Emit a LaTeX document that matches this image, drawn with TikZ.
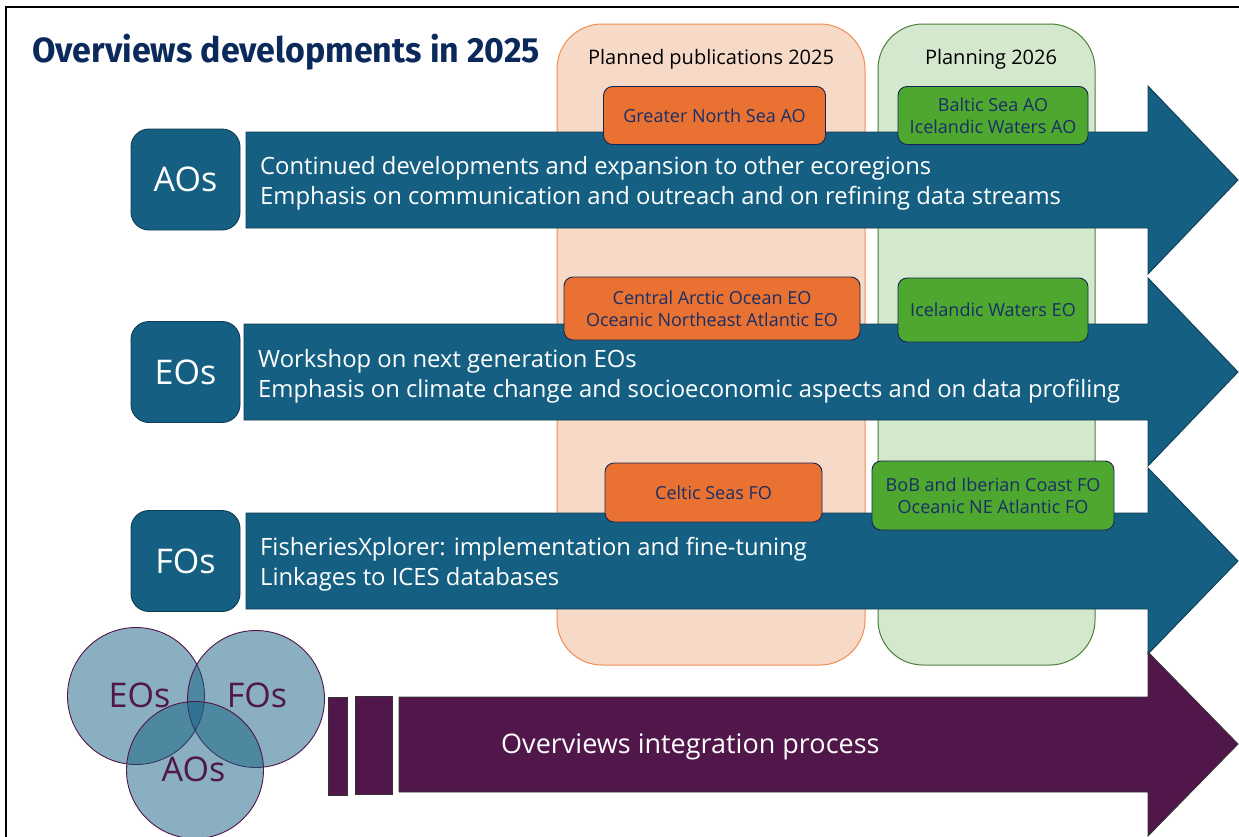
\documentclass[tikz,border=0pt]{standalone}
\usepackage{fontspec}
\setmainfont{Open Sans}
\newfontfamily\titlefont[FakeStretch=0.97]{Fira Sans}
\definecolor{tblue}{HTML}{156082}
\definecolor{tblueedge}{HTML}{0E3C52}
\definecolor{torange}{HTML}{E97132}
\definecolor{tgreen}{HTML}{4EA72E}
\definecolor{tnavy}{HTML}{1A2E66}
\definecolor{ttitle}{HTML}{0B2A5B}
\definecolor{tpeach}{HTML}{F7D9C8}
\definecolor{tpeachedge}{HTML}{F08D52}
\definecolor{tlgreen}{HTML}{D3E8CD}
\definecolor{tlgreenedge}{HTML}{4E7F3A}
\definecolor{tpurple}{HTML}{51174A}
\tikzset{
  column/.style={rounded corners=45pt, line width=1pt},
  bigarrow/.style={fill=tblue, draw=tblueedge, line width=0.9pt},
  purplearrow/.style={fill=tpurple, draw=black!80, line width=0.9pt},
  catbox/.style={draw=tblueedge, fill=tblue, line width=0.9pt, rounded corners=18pt,
    minimum width=109pt, minimum height=101pt, inner sep=0pt, text=white,
    font=\fontsize{34}{40}\selectfont},
  arrowtext/.style={anchor=base west, inner sep=0pt, align=left, text=white,
    font=\fontsize{23.8}{30}\selectfont},
  pubbox/.style={draw=tnavy!80!black, line width=0.9pt, rounded corners=9pt, inner sep=0pt,
    align=center, text=tnavy, font=\fontsize{18}{22}\selectfont},
  orangebox/.style={pubbox, fill=torange},
  greenbox/.style={pubbox, fill=tgreen},
  venn/.style={circle, minimum size=137pt, inner sep=0pt, fill=tblue, fill opacity=0.5,
    draw=tpurple, draw opacity=1, line width=0.9pt},
  venntext/.style={text=tpurple, inner sep=0pt, anchor=base, font=\fontsize{34}{40}\selectfont},
  header/.style={anchor=base, inner sep=0pt, text=black, font=\fontsize{20}{24}\selectfont},
}
\begin{document}
\begin{tikzpicture}[x=1pt,y=-1pt]
\useasboundingbox (0,0) rectangle (1239,836);
\clip (0,0) rectangle (1239,836);
\fill[white] (0,0) rectangle (1239,836);
% frame
\draw[line width=2pt] (6,7) rectangle (1260,860);
% title
\node[anchor=base west, inner sep=0pt, text=ttitle, font=\titlefont\bfseries\fontsize{35}{40}\selectfont] (title) at (32,62) {Overviews developments in 2025};
% columns
\path[column, fill=tpeach, draw=tpeachedge] (557,24) rectangle (865,665);
\path[column, fill=tlgreen, draw=tlgreenedge] (878,24) rectangle (1095,665);
\node[header] (h25) at (711,64) {Planned publications 2025};
\node[header] (h26) at (991,64) {Planning 2026};
% blue arrows
\path[bigarrow] (246,132) -- (1148,132) -- (1148,86) -- (1238,180) -- (1148,274) -- (1148,228) -- (246,228) -- cycle;
\path[bigarrow] (244,324) -- (1148,324) -- (1148,278) -- (1238,372) -- (1148,466) -- (1148,420) -- (244,420) -- cycle;
\path[bigarrow] (246,513) -- (1148,513) -- (1148,468) -- (1238,561) -- (1148,654) -- (1148,609) -- (246,609) -- cycle;
% purple arrow
\path[purplearrow] (399,697) -- (1148,697) -- (1148,652) -- (1238,744) -- (1148,836) -- (1148,792) -- (399,792) -- cycle;
\path[purplearrow] (328,697) rectangle (347,795);
\path[purplearrow] (355,696) rectangle (392,794);
\node[anchor=base west, inner sep=0pt, text=white, font=\fontsize{27}{30}\selectfont] (integ) at (501,753) {Overviews integration process};
% category boxes
\node[catbox] (ao) at (185.5,179.5) {AOs};
\node[catbox] (eo) at (185.5,372) {EOs};
\node[catbox] (fo) at (185.5,561) {FOs};
% arrow texts (base = baseline of the last line)
\node[arrowtext] (aotext) at (260,204) {Continued developments and expansion to other ecoregions\\Emphasis on communication and outreach and on refining data streams};
\node[arrowtext] (eotext) at (258,397) {Workshop on next generation EOs\\Emphasis on climate change and socioeconomic aspects and on data profiling};
\node[arrowtext] (fotext) at (260,585) {FisheriesXplorer: implementation and fine-tuning\\Linkages to ICES databases};
% publication boxes
\node[orangebox, minimum width=222pt, minimum height=58pt] (gns) at (714.5,115.5) {Greater North Sea AO};
\node[orangebox, minimum width=296pt, minimum height=63pt] (cao) at (712,308.5) {Central Arctic Ocean EO\\Oceanic Northeast Atlantic EO};
\node[orangebox, minimum width=217pt, minimum height=59pt] (cel) at (713.5,492.5) {Celtic Seas FO};
\node[greenbox, minimum width=190pt, minimum height=58pt] (bal) at (993,115.5) {Baltic Sea AO\\Icelandic Waters AO};
\node[greenbox, minimum width=190pt, minimum height=64pt] (iwe) at (993,310) {Icelandic Waters EO};
\node[greenbox, minimum width=242pt, minimum height=69pt] (bob) at (993,495.5) {BoB and Iberian Coast FO\\Oceanic NE Atlantic FO};
% venn
\node[venn] (veo) at (136,696) {};
\node[venn] (vfo) at (256,699) {};
\node[venn] (vao) at (195,770) {};
\node[venntext] (teo) at (139.5,707) {EOs};
\node[venntext] (tfo) at (257,707) {FOs};
\node[venntext] (tao) at (193.5,781) {AOs};
\end{tikzpicture}
\end{document}
